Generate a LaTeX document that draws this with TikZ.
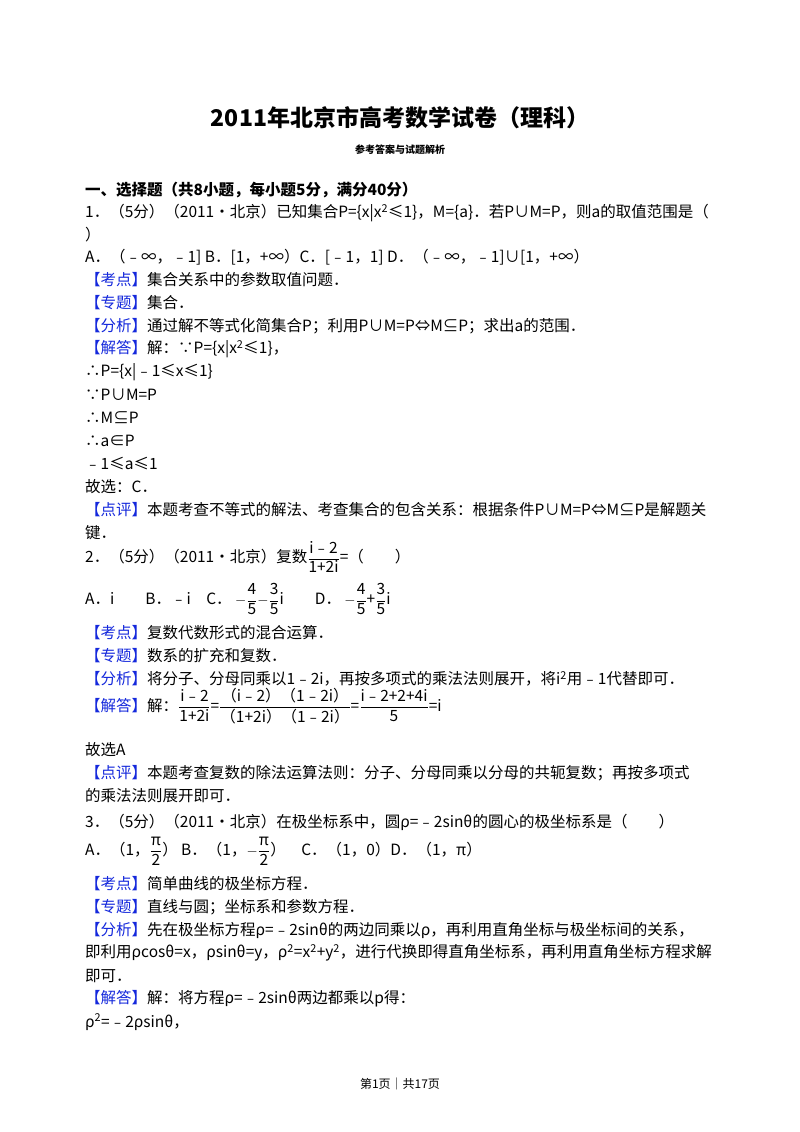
\documentclass[tikz,border=0pt]{standalone}
\usepackage{fontspec}
\setmainfont{Noto Sans CJK SC}
\definecolor{lab}{RGB}{20,40,220}
\newcommand{\lb}[1]{\textcolor{lab}{【#1】}}
\newcommand{\fr}[2]{$\displaystyle\frac{\mbox{#1}}{\mbox{#2}}$}
\begin{document}
\begin{tikzpicture}[x=1pt,y=-1pt,
  ln/.style={anchor=west,inner sep=0pt,font=\fontsize{15.5}{17}\selectfont}]
\useasboundingbox[fill=white] (0,0) rectangle (800,1132);
\node[inner sep=0pt,font=\fontsize{23}{25}\selectfont\bfseries] (t) at (400,118) {2011年北京市高考数学试卷（理科）};
\node[inner sep=0pt,font=\fontsize{10}{12}\selectfont\bfseries] (st) at (400,150) {参考答案与试题解析};
\node[ln,font=\fontsize{15.5}{17}\selectfont\bfseries] (h) at (85,190) {一、选择题（共8小题，每小题5分，满分40分）};
\node[ln] (l1) at (85,213) {1．（5分）（2011•北京）已知集合P=\{x|x\textsuperscript{2}≤1\}，M=\{a\}．若P∪M=P，则a的取值范围是（};
\node[ln] (l2) at (85,235) {）};
\node[ln] (l3) at (85,257) {A．（﹣∞，﹣1] B．[1，+∞）C．[﹣1，1] D．（﹣∞，﹣1]∪[1，+∞）};
\node[ln] (l4) at (85,280) {\lb{考点}集合关系中的参数取值问题．};
\node[ln] (l5) at (85,303) {\lb{专题}集合．};
\node[ln] (l6) at (85,326) {\lb{分析}通过解不等式化简集合P；利用P∪M=P⇔M⊆P；求出a的范围．};
\node[ln] (l7) at (85,349) {\lb{解答}解：∵P=\{x|x\textsuperscript{2}≤1\}，};
\node[ln] (l8) at (85,372) {∴P=\{x|﹣1≤x≤1\}};
\node[ln] (l9) at (85,395) {∵P∪M=P};
\node[ln] (l10) at (85,418) {∴M⊆P};
\node[ln] (l11) at (85,441) {∴a∈P};
\node[ln] (l12) at (85,464) {﹣1≤a≤1};
\node[ln] (l13) at (85,487) {故选：C．};
\node[ln] (l14) at (85,510) {\lb{点评}本题考查不等式的解法、考查集合的包含关系：根据条件P∪M=P⇔M⊆P是解题关};
\node[ln] (l15) at (85,533) {键．};
\node[ln] (q2) at (85,557) {2．（5分）（2011•北京）复数\fr{i﹣2}{1+2i}=（　　）};
\node[ln] (q2o) at (85,599) {A．i　　B．﹣i　C．\ $-$\fr{4}{5}$-$\fr{3}{5}i　　D．\ $-$\fr{4}{5}+\fr{3}{5}i};
\node[ln] (m1) at (85,633) {\lb{考点}复数代数形式的混合运算．};
\node[ln] (m2) at (85,656) {\lb{专题}数系的扩充和复数．};
\node[ln] (m3) at (85,679) {\lb{分析}将分子、分母同乘以1﹣2i，再按多项式的乘法法则展开，将i\textsuperscript{2}用﹣1代替即可．};
\node[ln] (m4) at (85,706) {\lb{解答}解：\fr{i﹣2}{1+2i}=\fr{（i﹣2）（1﹣2i）}{（1+2i）（1﹣2i）}=\fr{i﹣2+2+4i}{5}=i};
\node[ln] (m5) at (85,750) {故选A};
\node[ln] (m6) at (85,773) {\lb{点评}本题考查复数的除法运算法则：分子、分母同乘以分母的共轭复数；再按多项式};
\node[ln] (m7) at (85,796) {的乘法法则展开即可．};
\node[ln] (q3) at (85,822) {3．（5分）（2011•北京）在极坐标系中，圆ρ=﹣2sinθ的圆心的极坐标系是（　　）};
\node[ln] (q3o) at (85,851) {A．（1，\fr{π}{2}） B．（1，$-$\fr{π}{2}）　C．（1，0）D．（1，π）};
\node[ln] (n1) at (85,884) {\lb{考点}简单曲线的极坐标方程．};
\node[ln] (n2) at (85,907) {\lb{专题}直线与圆；坐标系和参数方程．};
\node[ln] (n3) at (85,930) {\lb{分析}先在极坐标方程ρ=﹣2sinθ的两边同乘以ρ，再利用直角坐标与极坐标间的关系，};
\node[ln] (n4) at (85,953) {即利用ρcosθ=x，ρsinθ=y，ρ\textsuperscript{2}=x\textsuperscript{2}+y\textsuperscript{2}，进行代换即得直角坐标系，再利用直角坐标方程求解};
\node[ln] (n5) at (85,976) {即可．};
\node[ln] (n6) at (85,999) {\lb{解答}解：将方程ρ=﹣2sinθ两边都乘以p得：};
\node[ln] (n7) at (85,1022) {ρ\textsuperscript{2}=﹣2ρsinθ，};
\node[inner sep=0pt,font=\fontsize{12}{14}\selectfont] (pg) at (400,1084) {第1页｜共17页};
\end{tikzpicture}
\end{document}
